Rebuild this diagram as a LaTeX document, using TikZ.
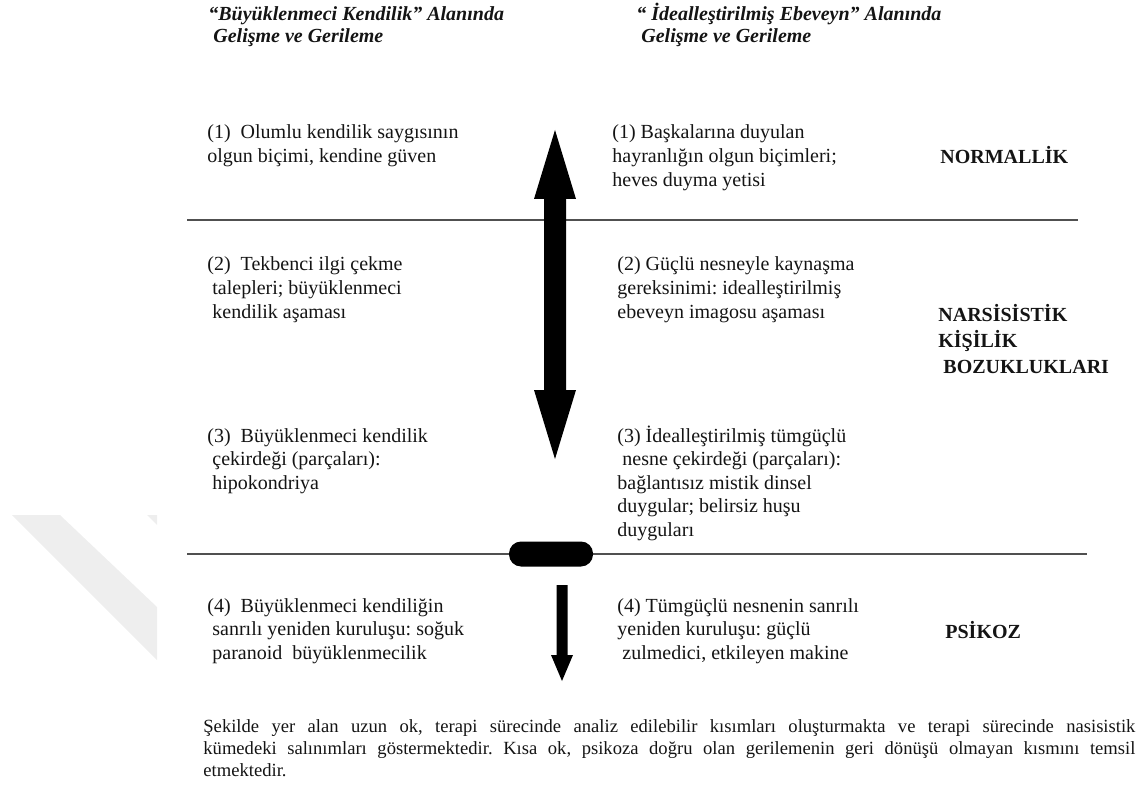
\documentclass[tikz,border=0pt]{standalone}
\usepackage{fontspec}
\setmainfont{Liberation Serif}
\usetikzlibrary{positioning}
\definecolor{InkBlack}{RGB}{20,20,20}
\definecolor{RuleGray}{RGB}{80,80,80}
\definecolor{MarkGray}{RGB}{238,238,238}
\hyphenpenalty=10000
\frenchspacing
\tikzset{
  colhead/.style={font=\fontsize{10}{11}\selectfont\bfseries\itshape,align=left,anchor=base west,inner sep=0pt,text=InkBlack},
  stage/.style={font=\fontsize{10}{11.8}\selectfont,align=left,anchor=base west,inner sep=0pt,text=InkBlack},
  zone/.style={font=\fontsize{10}{13}\selectfont\bfseries,align=left,anchor=base west,inner sep=0pt,text=InkBlack},
  caption/.style={font=\fontsize{9.3}{11}\selectfont,text width=466pt,align=justify,anchor=base west,inner sep=0pt,text=InkBlack},
  divider/.style={draw=RuleGray,line width=.8pt},
  pill/.style={rectangle,rounded corners=6pt,fill=black,minimum width=42pt,minimum height=12.5pt,inner sep=0pt},
  arrowfill/.style={fill=black}
}
\begin{document}
\begin{tikzpicture}[x=.5pt,y=-.5pt]
  \useasboundingbox (0,0) rectangle (1141,791);
  \fill[MarkGray] (12,515) -- (60,515) -- (157,607) -- (157,660) -- cycle;
  \fill[MarkGray] (147,515) -- (157,515) -- (157,525) -- cycle;
  \node[colhead] (headL) at (208,43) {“Büyüklenmeci Kendilik” Alanında\\\ Gelişme ve Gerileme};
  \node[colhead] (headR) at (636,43) {“ İdealleştirilmiş Ebeveyn” Alanında\\\ Gelişme ve Gerileme};
  \draw[divider] (187,220) -- (1078,220);
  \draw[divider] (187,554) -- (1087,554);
  \coordinate (longTop) at (555,130);
  \fill[arrowfill] (longTop) -- ++(21,69) -- ++(-10,0) -- ++(0,191) -- ++(10,0) -- ++(-21,69) -- ++(-21,-69) -- ++(10,0) -- ++(0,-191) -- ++(-10,0) -- cycle;
  \node[pill] (gate) at (551,554) {};
  \coordinate (shortTop) at (562,585);
  \fill[arrowfill] (shortTop) -- ++(5.5,0) -- ++(0,70) -- ++(5.5,0) -- ++(-11,26) -- ++(-11,-26) -- ++(5.5,0) -- ++(0,-70) -- cycle;
  \node[stage] (selfA) at (207,162.6) {(1)\ \ Olumlu kendilik saygısının\\olgun biçimi, kendine güven};
  \node[stage] (selfB) at (207,318.2) {(2)\ \ Tekbenci ilgi çekme\\\ talepleri; büyüklenmeci\\\ kendilik aşaması};
  \node[stage] (selfC) at (207,489.2) {(3)\ \ Büyüklenmeci kendilik\\\ çekirdeği (parçaları):\\\ hipokondriya};
  \node[stage] (selfD) at (207,659.2) {(4)\ \ Büyüklenmeci kendiliğin\\\ sanrılı yeniden kuruluşu: soğuk\\\ paranoid\ \ büyüklenmecilik};
  \node[stage] (parentA) at (612,186.2) {(1) Başkalarına duyulan\\hayranlığın olgun biçimleri;\\heves duyma yetisi};
  \node[stage] (parentB) at (617,318.2) {(2) Güçlü nesneyle kaynaşma\\gereksinimi: idealleştirilmiş\\ebeveyn imagosu aşaması};
  \node[stage] (parentC) at (617,536.4) {(3) İdealleştirilmiş tümgüçlü\\\ nesne çekirdeği (parçaları):\\bağlantısız mistik dinsel\\duygular; belirsiz huşu\\duyguları};
  \node[stage] (parentD) at (617,659.2) {(4) Tümgüçlü nesnenin sanrılı\\yeniden kuruluşu: güçlü\\\ zulmedici, etkileyen makine};
  \node[zone] (normal) at (940,164) {NORMALLİK};
  \node[zone] (narc) at (938,373) {NARSİSİSTİK\\KİŞİLİK\\\ BOZUKLUKLARI};
  \node[zone] (psych) at (945,638) {PSİKOZ};
  \node[caption] (note) at (203,732) {Şekilde yer alan uzun ok, terapi sürecinde analiz edilebilir kısımları oluşturmakta ve terapi sürecinde nasisistik\linebreak kümedeki salınımları göstermektedir. Kısa ok, psikoza doğru olan gerilemenin geri dönüşü olmayan kısmını temsil\linebreak etmektedir.};
\end{tikzpicture}
\end{document}
